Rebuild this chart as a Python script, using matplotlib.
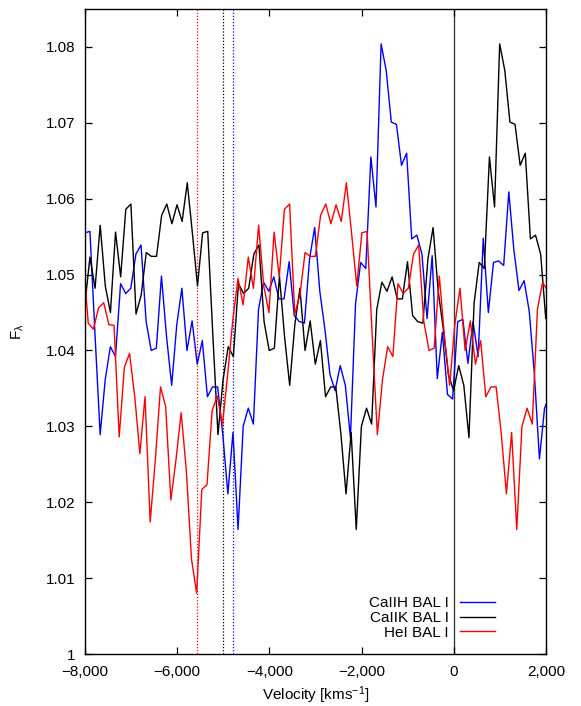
import numpy as np
import matplotlib
matplotlib.use("Agg")
from matplotlib import pyplot as plt
from matplotlib.ticker import FuncFormatter, MultipleLocator

plt.rcParams["font.family"] = ["Liberation Sans", "DejaVu Sans"]
plt.rcParams["mathtext.fontset"] = "custom"
plt.rcParams["mathtext.rm"] = "Liberation Sans"
plt.rcParams["mathtext.it"] = "Liberation Sans"

# normalised flux, one value per detector pixel (pixel -31 .. 114)
flux = [
    1.0522, 1.0436, 1.0428, 1.0456, 1.0463, 1.0434, 1.0433, 1.0286, 1.0378, 1.0396,
    1.0340, 1.0264, 1.0339, 1.0174, 1.0256, 1.0352, 1.0326, 1.0203, 1.0256, 1.0318,
    1.0242, 1.0125, 1.0080, 1.0217, 1.0223, 1.0321, 1.0340, 1.0302, 1.0368, 1.0440,
    1.0495,
    1.0460, 1.0523, 1.0482, 1.0565, 1.0485, 1.0450, 1.0556, 1.0497, 1.0586, 1.0593,
    1.0448, 1.0473, 1.0529, 1.0524, 1.0524, 1.0578, 1.0593, 1.0567, 1.0592, 1.0570,
    1.0621, 1.0555, 1.0485, 1.0555, 1.0557, 1.0420, 1.0289, 1.0362, 1.0405, 1.0392,
    1.0488, 1.0475, 1.0482, 1.0527, 1.0539, 1.0438, 1.0400, 1.0403, 1.0498, 1.0418,
    1.0354, 1.0434, 1.0482, 1.0400, 1.0439, 1.0382, 1.0413, 1.0339, 1.0352, 1.0352,
    1.0290, 1.0211, 1.0292, 1.0164, 1.0300, 1.0324, 1.0303, 1.0454, 1.0490, 1.0478,
    1.0497, 1.0468, 1.0468, 1.0517, 1.0446, 1.0438, 1.0436, 1.0521, 1.0562, 1.0478,
    1.0428, 1.0368, 1.0347, 1.0380, 1.0354, 1.0285, 1.0462, 1.0516, 1.0508, 1.0655,
    1.0589, 1.0804, 1.0769, 1.0701, 1.0698, 1.0644, 1.0660, 1.0547, 1.0552, 1.0527,
    1.0442, 1.0525, 1.0363, 1.0424, 1.0342, 1.0336, 1.0438, 1.0441, 1.0383, 1.0438,
    1.0392, 1.0548, 1.0450, 1.0516, 1.0518, 1.0512, 1.0609, 1.0532, 1.0479, 1.0492,
    1.0452, 1.0370, 1.0257, 1.0324, 1.0340,
]
first_pixel = -31

# velocity of pixel 0 and km/s per pixel in the rest frame of each line
line_names = ["CaIIH BAL I", "CaIIK BAL I", "HeI BAL I"]
zero_point = [-10552, -8004, -4570]
dispersion = [110.8, 111.1, 112.0]
line_colors = ["#0000ff", "#000000", "#ff0000"]

# velocity of the BAL minimum for each line (dotted markers)
bal_velocity = [-4800, -5000, -5580]

pixel = np.arange(first_pixel, first_pixel + len(flux))

fig = plt.figure(figsize=(5.81, 7.06), dpi=100)
ax = fig.add_axes([85 / 581, 52 / 706, 461 / 581, 645 / 706])

ax.axvline(0, color="0.25", lw=1.0, zorder=1)
for v, c in zip(bal_velocity, line_colors):
    ax.axvline(v, color=c, lw=0.9, ls=(0, (1, 1.5)), zorder=1)

for name, v0, dv, c in zip(line_names, zero_point, dispersion, line_colors):
    ax.plot(v0 + dv * pixel, flux, color=c, lw=1.0, label=name, zorder=2)

ax.set_xlim(-8000, 2000)
ax.set_ylim(1.0, 1.085)
ax.xaxis.set_major_locator(MultipleLocator(2000))
ax.yaxis.set_major_locator(MultipleLocator(0.01))
ax.xaxis.set_major_formatter(FuncFormatter(lambda v, p: f"{v:,.0f}".replace("-", "\u2212")))
ax.yaxis.set_major_formatter(FuncFormatter(lambda v, p: f"{v:.2f}".rstrip("0").rstrip(".")))
ax.tick_params(axis="both", direction="in", length=5, width=0.9, labelsize=11,
               top=True, right=True)
ax.tick_params(axis="x", pad=8)
ax.tick_params(axis="y", pad=7)
for s in ax.spines.values():
    s.set_linewidth(1.0)

ax.set_xlabel(r"Velocity [kms$^{-1}$]", fontsize=11, labelpad=4)
ax.set_ylabel(r"F$_{\lambda}$", fontsize=11, labelpad=14)

ax.legend(loc="lower right", bbox_to_anchor=(0.889, 0.022), frameon=False,
          markerfirst=False, fontsize=11, handlelength=2.3, handletextpad=0.7,
          labelspacing=0.05, borderpad=0, borderaxespad=0)

fig.savefig("out.png", dpi=100)
